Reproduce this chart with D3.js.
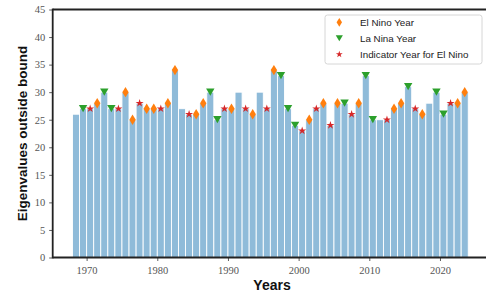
<!DOCTYPE html>
<html><head><meta charset="utf-8">
<script src="https://cdn.jsdelivr.net/npm/d3@7"></script>
<style>body{margin:0;background:#fff}svg{display:block}</style>
</head><body><svg id="c" width="486" height="294"></svg>
<script>
const years = [1969,1970,1971,1972,1973,1974,1975,1976,1977,1978,1979,1980,1981,1982,1983,1984,1985,1986,1987,1988,1989,1990,1991,1992,1993,1994,1995,1996,1997,1998,1999,2000,2001,2002,2003,2004,2005,2006,2007,2008,2009,2010,2011,2012,2013,2014,2015,2016,2017,2018,2019,2020,2021,2022,2023,2024];
const counts = [26,27,27,28,30,27,27,30,25,28,27,27,27,28,34,27,26,26,28,30,25,27,27,30,27,26,30,27,34,33,27,24,23,25,27,28,24,28,28,26,28,33,25,25,25,27,28,31,27,26,28,30,26,28,28,30];
const elNinoYears = [1972,1976,1977,1979,1980,1982,1983,1986,1987,1991,1994,1997,2002,2004,2006,2009,2014,2015,2018,2023,2024];
const laNinaYears = [1970,1973,1974,1988,1989,1998,1999,2000,2007,2010,2011,2016,2020,2021];
const indicatorYears = [1971,1975,1978,1981,1985,1990,1993,1996,2001,2003,2005,2008,2013,2017,2022];
const xTicks = [1970,1980,1990,2000,2010,2020];
const yTicks = [0,5,10,15,20,25,30,35,40,45];
const legendLabels = ["El Nino Year","La Nina Year","Indicator Year for El Nino"];

const svg = d3.select("#c");
const L = 52.7, T = 9.5, B = 257.5;
const x = d3.scaleLinear().domain([1965.2, 2026.8]).range([L, L + 61.6*7.067]);
const y = d3.scaleLinear().domain([0, 45]).range([B, T]);
const valOf = new Map(years.map((yr,i)=>[yr, counts[i]]));

// bars: bar for year Y spans [Y-1, Y]
svg.append("g").selectAll("rect").data(years).join("rect")
  .attr("x", d => x(d-1)).attr("width", d => x(d)-x(d-1))
  .attr("y", (d,i) => y(counts[i])).attr("height", (d,i) => y(0)-y(counts[i]))
  .attr("fill", "#8fbbd9").attr("stroke", "#fff").attr("stroke-width", 0.9);

const C_O = "#ff7f0e", C_G = "#2ca02c", C_R = "#d62728";
const diamond = "M0,-5.2L3.2,0L0,5.2L-3.2,0Z";
const triDown = "M-4.2,-3.6L4.2,-3.6L0,3.6Z";
const star = d3.symbol(d3.symbolStar, 20)();

function markers(list, path, color){
  svg.append("g").selectAll("path").data(list).join("path")
    .attr("d", path)
    .attr("transform", d => `translate(${x(d-0.5)},${y(valOf.get(d))})`)
    .attr("fill", color);
}
markers(elNinoYears, diamond, C_O);
markers(laNinaYears, triDown, C_G);
markers(indicatorYears, star, C_R);

// axes
const gx = svg.append("g").attr("transform", `translate(0,${B})`)
  .call(d3.axisBottom(x).tickValues(xTicks).tickFormat(d3.format("d")).tickSize(3.5).tickSizeOuter(0));
const gy = svg.append("g").attr("transform", `translate(${L},0)`)
  .call(d3.axisLeft(y).tickValues(yTicks).tickSize(3.5).tickSizeOuter(0));
[gx, gy].forEach(g => {
  g.select(".domain").remove();
  g.selectAll(".tick line").attr("stroke", "#333").attr("stroke-width", 0.8);
  g.selectAll(".tick text").attr("font-family", "'Liberation Serif','DejaVu Serif',serif")
    .attr("font-size", 10.5).attr("fill", "#555");
});
gx.selectAll(".tick text").attr("dy", "0.95em");
gy.selectAll(".tick text").attr("dx", "-0.1em");

// spines
const sp = svg.append("g").attr("stroke", "#222").attr("stroke-width", 1.8).attr("fill", "none");
sp.append("line").attr("x1", L).attr("x2", 490).attr("y1", B).attr("y2", B);
sp.append("line").attr("x1", L).attr("x2", 490).attr("y1", T).attr("y2", T);
sp.append("line").attr("x1", L).attr("x2", L).attr("y1", T-0.9).attr("y2", B+0.9);

// axis labels
svg.append("text").attr("transform", `translate(22,${(T+B)/2}) rotate(-90)`)
  .attr("text-anchor", "middle").attr("dy", "0.35em")
  .attr("font-family", "'Liberation Sans',Arial,sans-serif").attr("font-weight", "bold")
  .attr("font-size", 13.5).attr("fill", "#111").text("Eigenvalues outside bound");
svg.append("text").attr("x", 272).attr("y", 290)
  .attr("text-anchor", "middle")
  .attr("font-family", "'Liberation Sans',Arial,sans-serif").attr("font-weight", "bold")
  .attr("font-size", 14).attr("fill", "#111").text("Years");

// legend
const lg = svg.append("g");
lg.append("rect").attr("x", 325).attr("y", 15).attr("width", 157).attr("height", 49).attr("rx", 2.5)
  .attr("fill", "#fff").attr("fill-opacity", 0.85).attr("stroke", "#ccc").attr("stroke-width", 0.8);
const lgPaths = [diamond, triDown, star], lgCols = [C_O, C_G, C_R];
legendLabels.forEach((t,i) => {
  const yy = 22.3 + i*16;
  lg.append("path").attr("d", lgPaths[i]).attr("fill", lgCols[i]).attr("transform", `translate(339.3,${yy}) scale(0.85)`);
  lg.append("text").attr("x", 360).attr("y", yy).attr("dy", "0.35em")
    .attr("font-family", "'Liberation Sans',Arial,sans-serif").attr("font-size", 9.8).attr("fill", "#222").text(t);
});
</script></body></html>
